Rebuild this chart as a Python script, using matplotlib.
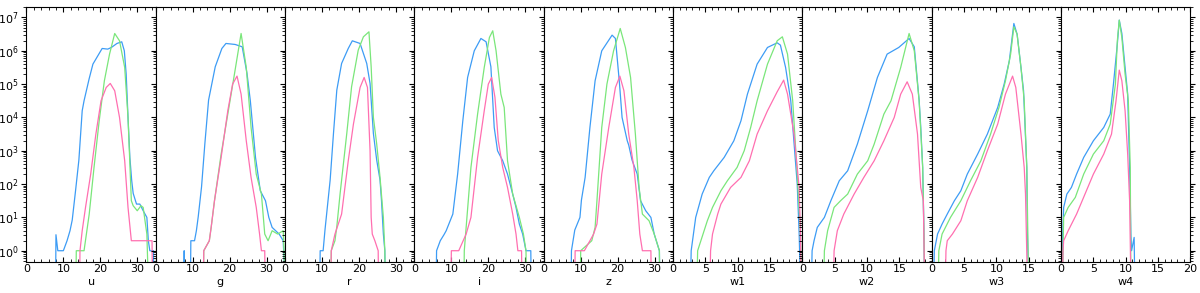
import numpy as np
import matplotlib
matplotlib.use('Agg')
import matplotlib.pyplot as plt
from matplotlib.ticker import AutoMinorLocator, LogLocator, NullFormatter

plt.rcParams['font.size'] = 8

bands = ['u', 'g', 'r', 'i', 'z', 'w1', 'w2', 'w3', 'w4']
xmax = [35, 35, 35, 35, 35, 20, 20, 20, 20]

# curves: (magnitude, log10 count); -1 means empty bin
blue = {
 'u': [(7.9,-1),(8.0,0.48),(8.5,0),(10,0),(11,0.3),(11.8,0.6),(12.4,0.92),(13.3,1.8),(14.2,2.72),(15.1,4.2),(15.6,4.5),(17,5.17),(18,5.6),(19.7,5.92),(20.5,6.07),(22,6.05),(23,6.1),(24.5,6.22),(25.8,6.27),(26.5,6.0),(27,5.3),(27.5,4.0),(28,2.8),(28.5,2.1),(28.9,1.72),(29.8,1.4),(30.7,1.4),(31.6,1.2),(32.6,1.0),(33,0.3),(33.4,0),(34.4,0),(34.5,-1)],
 'g': [(7.6,-1),(7.7,0),(7.8,-1),(9.4,-1),(9.5,0.3),(10.5,0.3),(11,0.6),(11.5,1.02),(12.4,1.92),(13.3,3.22),(14.3,4.52),(16.1,5.52),(17.9,6.07),(19,6.22),(21.5,6.19),(23.4,6.12),(24.7,5.32),(25.6,4.5),(27,2.8),(28.3,1.8),(29.7,1.5),(30.6,1.0),(31.5,0.7),(33.4,0.5),(34.5,0.3),(35,-1)],
 'r': [(9.4,-1),(9.5,0),(10.3,0),(10.8,0.62),(12.2,2.12),(13.1,3.52),(14,4.82),(15.3,5.62),(17.1,6.07),(18.2,6.3),(20.3,6.22),(22.1,5.62),(23,5.02),(23.9,3.52),(24.8,2.72),(25.7,2.12),(26.1,1.5),(26.6,0.5),(27,0),(27.1,-1)],
 'i': [(5.9,-1),(6.0,0),(7,0.3),(8,0.48),(8.6,0.6),(10.4,1.1),(11.7,2.3),(13.1,3.9),(14.4,5.2),(16.2,6.0),(18,6.37),(19.4,6.27),(20.7,5.52),(21.6,3.7),(22.5,3.0),(23.9,2.7),(25.2,2.3),(26.6,1.7),(27.5,1.3),(28.4,0.8),(29.3,0.5),(30.2,0),(31.5,0),(31.6,-1)],
 'z': [(7.4,-1),(7.5,0),(8.4,0.62),(9.8,1.0),(10.2,1.52),(11.2,2.2),(12.5,3.7),(13.9,5.1),(15.7,6.0),(18.5,6.47),(19.4,6.37),(20.5,5.02),(21.2,4.0),(22.6,3.3),(23,3.17),(23.9,2.72),(25.3,2.3),(26.2,1.5),(27.6,1.2),(29,1.0),(29.9,0.5),(31.3,0),(31.4,-1)],
 'w1': [(2.7,-1),(2.8,0),(3.5,1.0),(4.5,1.7),(5.6,2.2),(6.3,2.4),(7.9,2.8),(9.4,3.3),(10.5,3.9),(11.5,4.7),(13,5.6),(14.6,6.1),(16.1,6.24),(16.6,6.17),(17.4,5.5),(18.2,4.5),(19.2,2.0),(19.5,0.5),(19.7,-1)],
 'w2': [(1.4,-1),(1.5,0),(1.8,0.3),(2.3,0.7),(3.4,1.0),(4.4,1.5),(5.7,2.1),(7,2.4),(8.5,3.2),(10.1,4.2),(11.6,5.2),(13.1,5.9),(14.9,6.1),(16.5,6.37),(17.3,6.12),(18.05,4.52),(18.3,3.72),(18.6,2.5),(18.8,0.5),(18.9,-1)],
 'w3': [(0.3,-1),(0.4,0),(0.9,0.5),(1.6,0.8),(2.4,1.1),(3.5,1.5),(4.5,1.8),(5.5,2.3),(7.1,2.9),(8.6,3.5),(10.2,4.3),(11.2,5.0),(12,5.7),(12.7,6.82),(13.2,6.5),(13.8,5.5),(14.2,4.8),(14.7,2.5),(14.8,0.5),(15,-1)],
 'w4': [(0.2,-1),(0.26,0.5),(0.4,1.3),(0.9,1.7),(1.6,1.9),(2.4,2.3),(3.5,2.8),(5,3.3),(6.6,3.7),(7.6,4.1),(8.1,5.0),(8.7,6.2),(9,6.92),(9.4,6.52),(9.9,5.5),(10.3,4.7),(10.6,2.5),(10.8,0.5),(10.9,0),(11.3,0.4),(11.4,-1)],
}
green = {
 'u': [(13.4,-1),(13.5,0),(15.6,0),(17,1.1),(18.3,2.5),(19.7,3.9),(21.1,5.1),(22.5,5.9),(23.9,6.52),(25.2,6.3),(26.6,5.5),(27.5,4.0),(28.4,1.5),(28.9,1.35),(30,1.2),(31,1.35),(31.6,1.3),(32.6,0.5),(33,-1)],
 'g': [(12.9,-1),(13,0),(14.5,0.3),(15,0.7),(15.9,1.5),(17.7,2.9),(19.5,4.1),(21.3,5.3),(23.1,6.52),(24.5,5.5),(25.8,3.7),(27.2,2.3),(28.6,1.7),(29.5,0.5),(30.4,0.3),(31.5,0.6),(33,0.5),(34.5,0.6),(35,-1)],
 'r': [(12.4,-1),(12.5,0),(13.5,0.3),(14,0.72),(14.9,1.72),(16.7,3.52),(18,4.92),(19.8,6.02),(21.2,6.42),(22.7,6.57),(23.3,5.52),(23.9,4.0),(24.8,3.2),(25.7,2.2),(26.6,1.0),(27,0),(27.1,-1)],
 'i': [(13.4,-1),(13.5,0),(14,0.7),(15.3,2.5),(17.1,4.1),(18.9,5.5),(20.3,6.4),(21.2,6.6),(22.1,6.0),(23.4,4.7),(24.3,4.3),(25.2,2.7),(26.6,1.7),(28.4,1.0),(29.5,0.5),(30.2,0),(30.3,-1)],
 'z': [(9.9,-1),(10,0),(13,0.3),(13.9,0.7),(14.4,1.5),(15.7,3.7),(17.1,5.0),(18.9,6.0),(20.7,6.67),(22.1,6.1),(23.5,5.2),(24.8,3.5),(25.8,1.9),(26.7,1.1),(28.5,0.9),(29.9,0.5),(31.3,0),(31.4,-1)],
 'w1': [(3.7,-1),(3.8,0),(4.3,0.3),(5.3,0.9),(6.1,1.3),(7.4,1.8),(8.4,2.1),(9.9,2.5),(11,3.0),(12,3.7),(13,4.5),(14.6,5.6),(16.1,6.3),(16.9,6.42),(17.7,5.9),(18.5,4.5),(19.2,2.3),(19.7,0.5),(19.8,-1)],
 'w2': [(3.3,-1),(3.4,0),(3.9,0.6),(4.9,1.3),(5.9,1.5),(7,1.7),(8.5,2.3),(10.1,2.7),(11.1,3.2),(12.6,4.1),(13.7,4.5),(15.2,5.5),(16.5,6.52),(17.3,6.0),(18.05,4.5),(18.6,2.5),(18.8,0.5),(18.9,-1)],
 'w3': [(1.0,-1),(1.1,0),(1.6,0.5),(2.9,1.0),(4.5,1.5),(6,2.1),(7.6,2.7),(9.1,3.5),(10.4,4.3),(11.4,5.1),(12.2,5.9),(12.7,6.72),(13.2,6.5),(13.8,5.5),(14.3,4.5),(14.7,2.5),(14.9,0),(15.0,-1)],
 'w4': [(0.2,-1),(0.3,0),(0.4,1.0),(1.1,1.3),(2.2,1.6),(3.5,2.3),(5,2.9),(6.6,3.3),(7.6,3.8),(8.4,5.0),(8.7,6.3),(9,6.92),(9.4,6.4),(9.9,5.3),(10.4,4.5),(10.7,2.5),(10.8,-1)],
}
pink = {
 'u': [(14.4,-1),(14.5,0),(15.1,0.6),(16,1.3),(17.4,2.3),(18.8,3.5),(20.2,4.5),(21.6,4.9),(22.7,5.02),(23.9,4.8),(25.2,4.0),(26.6,2.7),(27.5,1.3),(28.4,0.3),(29.5,0.3),(31,0.3),(32.5,0.3),(34,0.3),(34.1,-1)],
 'g': [(12.9,-1),(13,0),(14.5,0.3),(15,0.7),(15.9,1.5),(17.7,2.8),(19.5,4.2),(20.8,5.0),(22,5.24),(23.1,4.7),(24.5,3.3),(25.8,2.2),(27.2,1.3),(28.1,0.5),(28.6,0),(29.5,0),(29.6,-1)],
 'r': [(12.4,-1),(12.5,0),(13.5,0.5),(15.3,1.1),(17.1,2.7),(18.5,3.8),(20.3,4.9),(21.4,5.2),(22.3,4.9),(23,3.0),(23.3,1.0),(23.6,0.5),(24.3,0.3),(25.2,0),(25.3,-1)],
 'i': [(9.9,-1),(10,0),(12,0),(14,0.5),(15.3,1.0),(17.1,2.8),(18.9,4.2),(20,5.0),(20.9,5.2),(21.8,4.6),(22.7,3.3),(23.9,2.5),(25.2,1.9),(26.6,1.1),(27.5,0.5),(28,0),(29,0),(29.1,-1)],
 'z': [(8.4,-1),(8.5,0),(11,0),(13.5,0.5),(14.4,0.8),(15.7,2.3),(17.6,3.7),(19.4,4.9),(20.6,5.24),(21.7,4.8),(23,3.5),(24.4,2.5),(25.3,1.5),(26,0.5),(26.7,0),(29,0),(29.1,-1)],
 'w1': [(5.7,-1),(5.8,0),(6.1,0.5),(6.9,1.1),(7.4,1.4),(8.9,1.9),(10.5,2.2),(11.8,2.7),(13,3.5),(14.6,4.2),(16.1,4.77),(17.1,5.12),(17.7,4.7),(18.7,3.5),(19.5,1.9),(19.7,0.5),(19.8,-1)],
 'w2': [(4.8,-1),(4.9,0),(5.4,0.6),(6.4,1.1),(8,1.7),(9.5,2.2),(11.1,2.7),(12.6,3.3),(14.2,4.0),(15.2,4.7),(16.2,5.07),(17,4.7),(17.8,3.5),(18.3,1.9),(18.7,1.5),(18.9,-1)],
 'w3': [(2.1,-1),(2.2,0),(2.4,0.3),(3.2,0.5),(4.5,0.9),(5.5,1.5),(7.1,2.2),(8.6,3.0),(10.2,3.8),(11.4,4.7),(12.5,5.24),(13,4.9),(13.8,3.5),(14.3,2.5),(14.5,1.7),(14.8,-1)],
 'w4': [(0.2,-1),(0.3,0),(0.4,0.3),(1.1,0.6),(2.4,1.1),(3.7,1.7),(5,2.3),(6.6,2.9),(7.8,3.5),(8.5,4.5),(9,5.42),(9.4,5.1),(9.9,4.2),(10.3,2.9),(10.6,1.5),(10.8,-1)],
}

colors = ['#3d9cf5', '#7ae67a', '#ff6fb0']

fig, axes = plt.subplots(1, 9, figsize=(12, 2.93), dpi=100, sharey=True)
fig.subplots_adjust(left=0.022, right=0.992, top=0.977, bottom=0.107, wspace=0)

for k, (ax, b) in enumerate(zip(axes, bands)):
    for series, c in zip([blue, green, pink], colors):
        pts = np.array(series[b])
        ax.plot(pts[:, 0], 10 ** pts[:, 1], color=c, lw=0.9)
    ax.set_yscale('log')
    ax.set_xlim(0, xmax[k])
    if xmax[k] == 35:
        ax.set_xticks([0, 10, 20, 30])
    elif k < 8:
        ax.set_xticks([0, 5, 10, 15])
    else:
        ax.set_xticks([0, 5, 10, 15, 20])
    ax.xaxis.set_minor_locator(AutoMinorLocator())
    ax.yaxis.set_minor_locator(LogLocator(base=10, subs=np.arange(2, 10), numticks=20))
    ax.yaxis.set_minor_formatter(NullFormatter())
    ax.tick_params(which='both', direction='out', top=True, right=True)
    ax.tick_params(which='major', length=3.5)
    ax.tick_params(which='minor', length=2)
    ax.tick_params(axis='y', pad=2)
    ax.tick_params(axis='x', which='both', direction='in', pad=2)
    ax.set_xlabel(b, labelpad=2)

axes[0].set_ylim(0.47, 2.1e7)

fig.savefig('out.png')
